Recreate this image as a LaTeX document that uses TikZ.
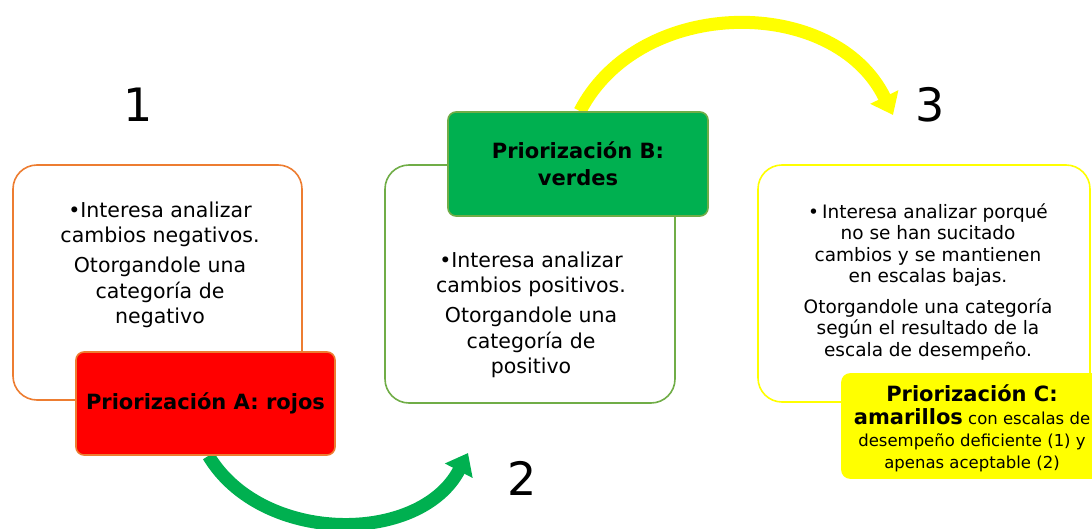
\documentclass[tikz,border=0pt]{standalone}
\usepackage{fontspec}
\setmainfont{DejaVu Sans}
\usetikzlibrary{arrows.meta,backgrounds}
\definecolor{orA}{RGB}{237,125,49}
\definecolor{grB}{RGB}{112,173,71}
\definecolor{grF}{RGB}{0,176,80}
\definecolor{yl}{RGB}{255,255,0}
\begin{document}
\begin{tikzpicture}[x=1pt,y=-1pt,
  outl/.style={draw,line width=1.6pt,rounded corners=24pt,fill=white,inner sep=0pt},
  tagbox/.style={draw,line width=1.6pt,rounded corners=8pt,inner sep=0pt,align=center},
  body/.style={align=center,font=\fontsize{20.5}{25.5}\selectfont},
  small/.style={align=center,font=\fontsize{18.5}{21.5}\selectfont},
  num/.style={font=\fontsize{46}{46}\selectfont},
  flow/.style={line width=13pt,-{Triangle[length=20pt,width=30pt]}},
  boldtag/.style={font=\bfseries\fontsize{21}{27}\selectfont},
]
\useasboundingbox (0,0) rectangle (1092,529);
\clip (0,0) rectangle (1092,529);

% box 1
\node[outl,draw=orA,minimum width=289pt,minimum height=235pt] (b1) at (157.5,282.5) {};
\node[body] (t1) at (160,265) {•Interesa analizar\\cambios negativos.\\[4.5pt]Otorgandole una\\categoría de\\negativo};
\node[tagbox,draw=orA,fill=red,boldtag,minimum width=259pt,minimum height=103pt] (rA) at (205.5,403.5) {Priorización A: rojos};

% box 2
\node[outl,draw=grB,minimum width=290pt,minimum height=238pt] (b2) at (530,284) {};
\node[body] (t2) at (531,315) {•Interesa analizar\\cambios positivos.\\[4.5pt]Otorgandole una\\categoría de\\positivo};
\node[tagbox,draw=grB,fill=grF,boldtag,minimum width=260pt,minimum height=104pt] (gB) at (578,164) {Priorización B:\\verdes};

% box 3
\node[outl,draw=yl,minimum width=332pt,minimum height=237pt] (b3) at (924,283.5) {};
\node[small] (t3) at (928,282) {•\,Interesa analizar porqué\\no se han sucitado\\cambios y se mantienen\\en escalas bajas.\\[9pt]Otorgandole una categoría\\según el resultado de la\\escala de desempeño.};
\node[tagbox,draw=yl,fill=yl,minimum width=258pt,minimum height=104pt] (yC) at (971,426) {};
\node[align=center,font=\fontsize{16.5}{22}\selectfont] (tC) at (972,428)
  {{\bfseries\fontsize{21}{24}\selectfont Priorización C:}\\[1pt]{\bfseries\fontsize{21}{24}\selectfont amarillos} con escalas de\\desempeño deficiente (1) y\\apenas aceptable (2)};

% numbers
\node[num] (n1) at (138,105) {1};
\node[num] (n2) at (522,478) {2};
\node[num] (n3) at (930,105) {3};

\coordinate (g2) at (468,453);
\coordinate (y3) at (893,115);

\begin{pgfonlayer}{background}
\draw[flow,grF] ([xshift=3pt]rA.south) .. controls (262,545) and (420,545) .. (g2);
\draw[flow,yl] ([xshift=2pt]gB.north) .. controls (640,-5) and (835,-5) .. (y3);
\end{pgfonlayer}
\end{tikzpicture}
\end{document}
